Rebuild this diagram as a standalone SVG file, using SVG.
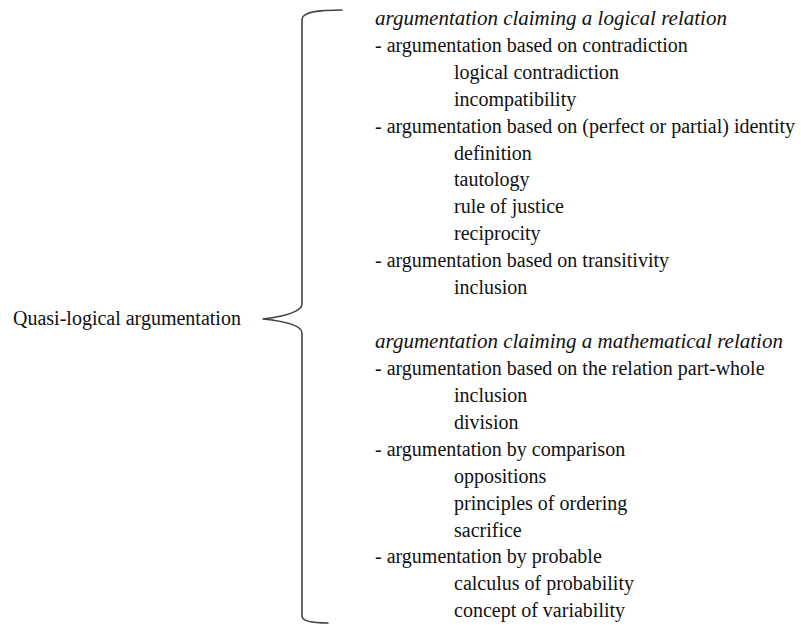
<svg xmlns="http://www.w3.org/2000/svg" width="801" height="625" viewBox="0 0 801 625">
<style>
text{font-family:"Liberation Serif","Times New Roman",serif;font-size:20px;fill:#111;}
.it{font-style:italic;font-size:21px;}
.brace{fill:none;stroke:#444;stroke-width:1.6;stroke-linecap:round;stroke-linejoin:round;}
</style>
<rect width="801" height="625" fill="#fff"/>
<g id="root"><text x="13" y="325">Quasi-logical argumentation</text></g>
<g id="connectors">
<path class="brace" d="M342,10 C322,10 303,11 302,19 L302,304 Q302,314 263,319 Q302,323 302,333 L302,616 Q302,623 328,623"/>
</g>
<g id="logical">
<text class="it" x="375" y="25">argumentation claiming a logical relation</text>
<text x="375" y="52">- argumentation based on contradiction</text>
<text x="454" y="79">logical contradiction</text>
<text x="454" y="106">incompatibility</text>
<text x="375" y="133">- argumentation based on (perfect or partial) identity</text>
<text x="454" y="160">definition</text>
<text x="454" y="186">tautology</text>
<text x="454" y="213">rule of justice</text>
<text x="454" y="240">reciprocity</text>
<text x="375" y="267">- argumentation based on transitivity</text>
<text x="454" y="294">inclusion</text>
</g>
<g id="mathematical">
<text class="it" x="375" y="348">argumentation claiming a mathematical relation</text>
<text x="375" y="375">- argumentation based on the relation part-whole</text>
<text x="454" y="402">inclusion</text>
<text x="454" y="429">division</text>
<text x="375" y="456">- argumentation by comparison</text>
<text x="454" y="483">oppositions</text>
<text x="454" y="510">principles of ordering</text>
<text x="454" y="537">sacrifice</text>
<text x="375" y="563">- argumentation by probable</text>
<text x="454" y="590">calculus of probability</text>
<text x="454" y="617">concept of variability</text>
</g>
</svg>
